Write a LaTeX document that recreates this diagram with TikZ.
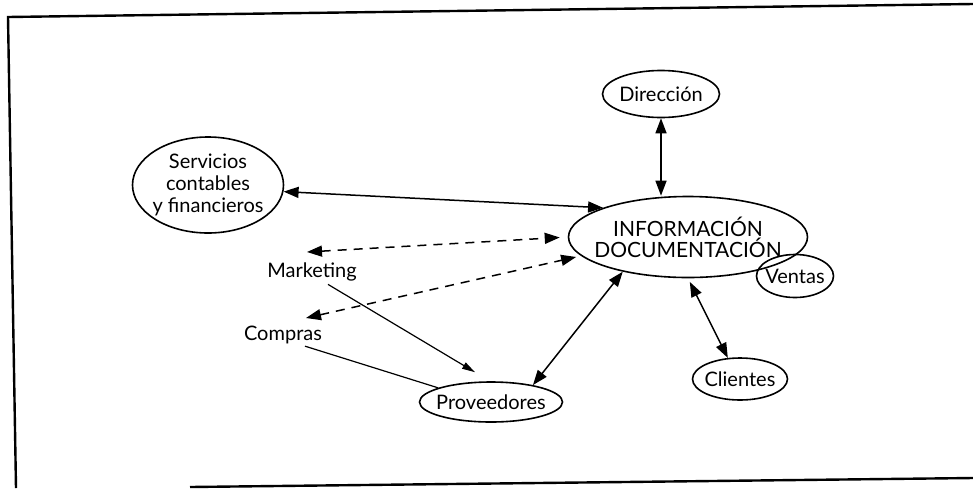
\documentclass[tikz,border=0pt]{standalone}
\usepackage{fontspec}
\setmainfont{Lato}
\usepackage{tikz}
\usetikzlibrary{arrows.meta, positioning, shapes.geometric}
\tikzset{%
	area/.style={
		ellipse,
		draw,
		line width=1.6pt,
		inner xsep=-5pt,
		inner ysep=0pt,
		align=center
	},
	area label/.style={
		inner sep=1pt,
		align=center
	},
	link/.style={
		line width=1.5pt,
		{Triangle[length=15pt,width=11pt]}-{Triangle[length=15pt,width=11pt]}
	},
	soft link/.style={
		link,
		dash pattern=on 9pt off 7pt
	},
}

\begin{document}
\begin{tikzpicture}[x=1pt, y=-1pt, font=\fontsize{20}{22}\selectfont]
			\useasboundingbox (0,0) rectangle (973,488);
			
			% Page frame
			\draw[line width=2.4pt] (16,488) -- (8,17) -- (973,4);
			\draw[line width=2.4pt] (190,487) -- (973,478);
			
			% Areas
			\node[area, minimum width=239pt, minimum height=81pt, inner xsep=-11pt, font=\fontsize{21}{21}\selectfont] (info) at (688,237) {INFORMACIÓN\\DOCUMENTACIÓN};
			\node[area, minimum width=117pt, minimum height=47pt] (dir) at (661,94) {Dirección};
			\node[area, minimum width=151pt, minimum height=96pt, inner ysep=-2pt] (serv) at (208,185) {Servicios\\contables\\y financieros};
			\node[area, minimum width=77pt, minimum height=43pt] (vent) at (795,276) {Ventas};
			\node[area, minimum width=95pt, minimum height=42pt] (cli) at (740,379) {Clientes};
			\node[area, minimum width=143pt, minimum height=40pt] (prov) at (491,402) {Proveedores};
			
			% Departments without ellipse
			\node[area label] (mkt) at (312,272) {Marketing};
			\node[area label] (comp) at (283,335) {Compras};
			\coordinate (mkt-tip) at (307,252);
			\coordinate (comp-tip) at (306,318);
			
			% Two way flows
			\draw[link] (dir.south) -- (info.north -| dir.south);
			\draw[link] (serv.-5) -- (info.161);
			\draw[link] (prov.22) -- (info.208);
			\draw[link, shorten <=4pt] (info.south) -- (cli.120);
			
			% Dashed flows
			\draw[soft link, shorten >=8pt] (mkt-tip) -- (info.west);
			\draw[soft link, shorten >=5pt] (comp-tip) -- (info.190);
			
			% Links to suppliers
			\draw[line width=1.2pt, -{Triangle[length=13pt,width=7pt]}] ([shift={(16,2)}]mkt.south) -- ([shift={(-16,-9)}]prov.north);
			\draw[line width=1.2pt] ([shift={(22,1)}]comp.south) -- (prov.165);
		\end{tikzpicture}
\end{document}
